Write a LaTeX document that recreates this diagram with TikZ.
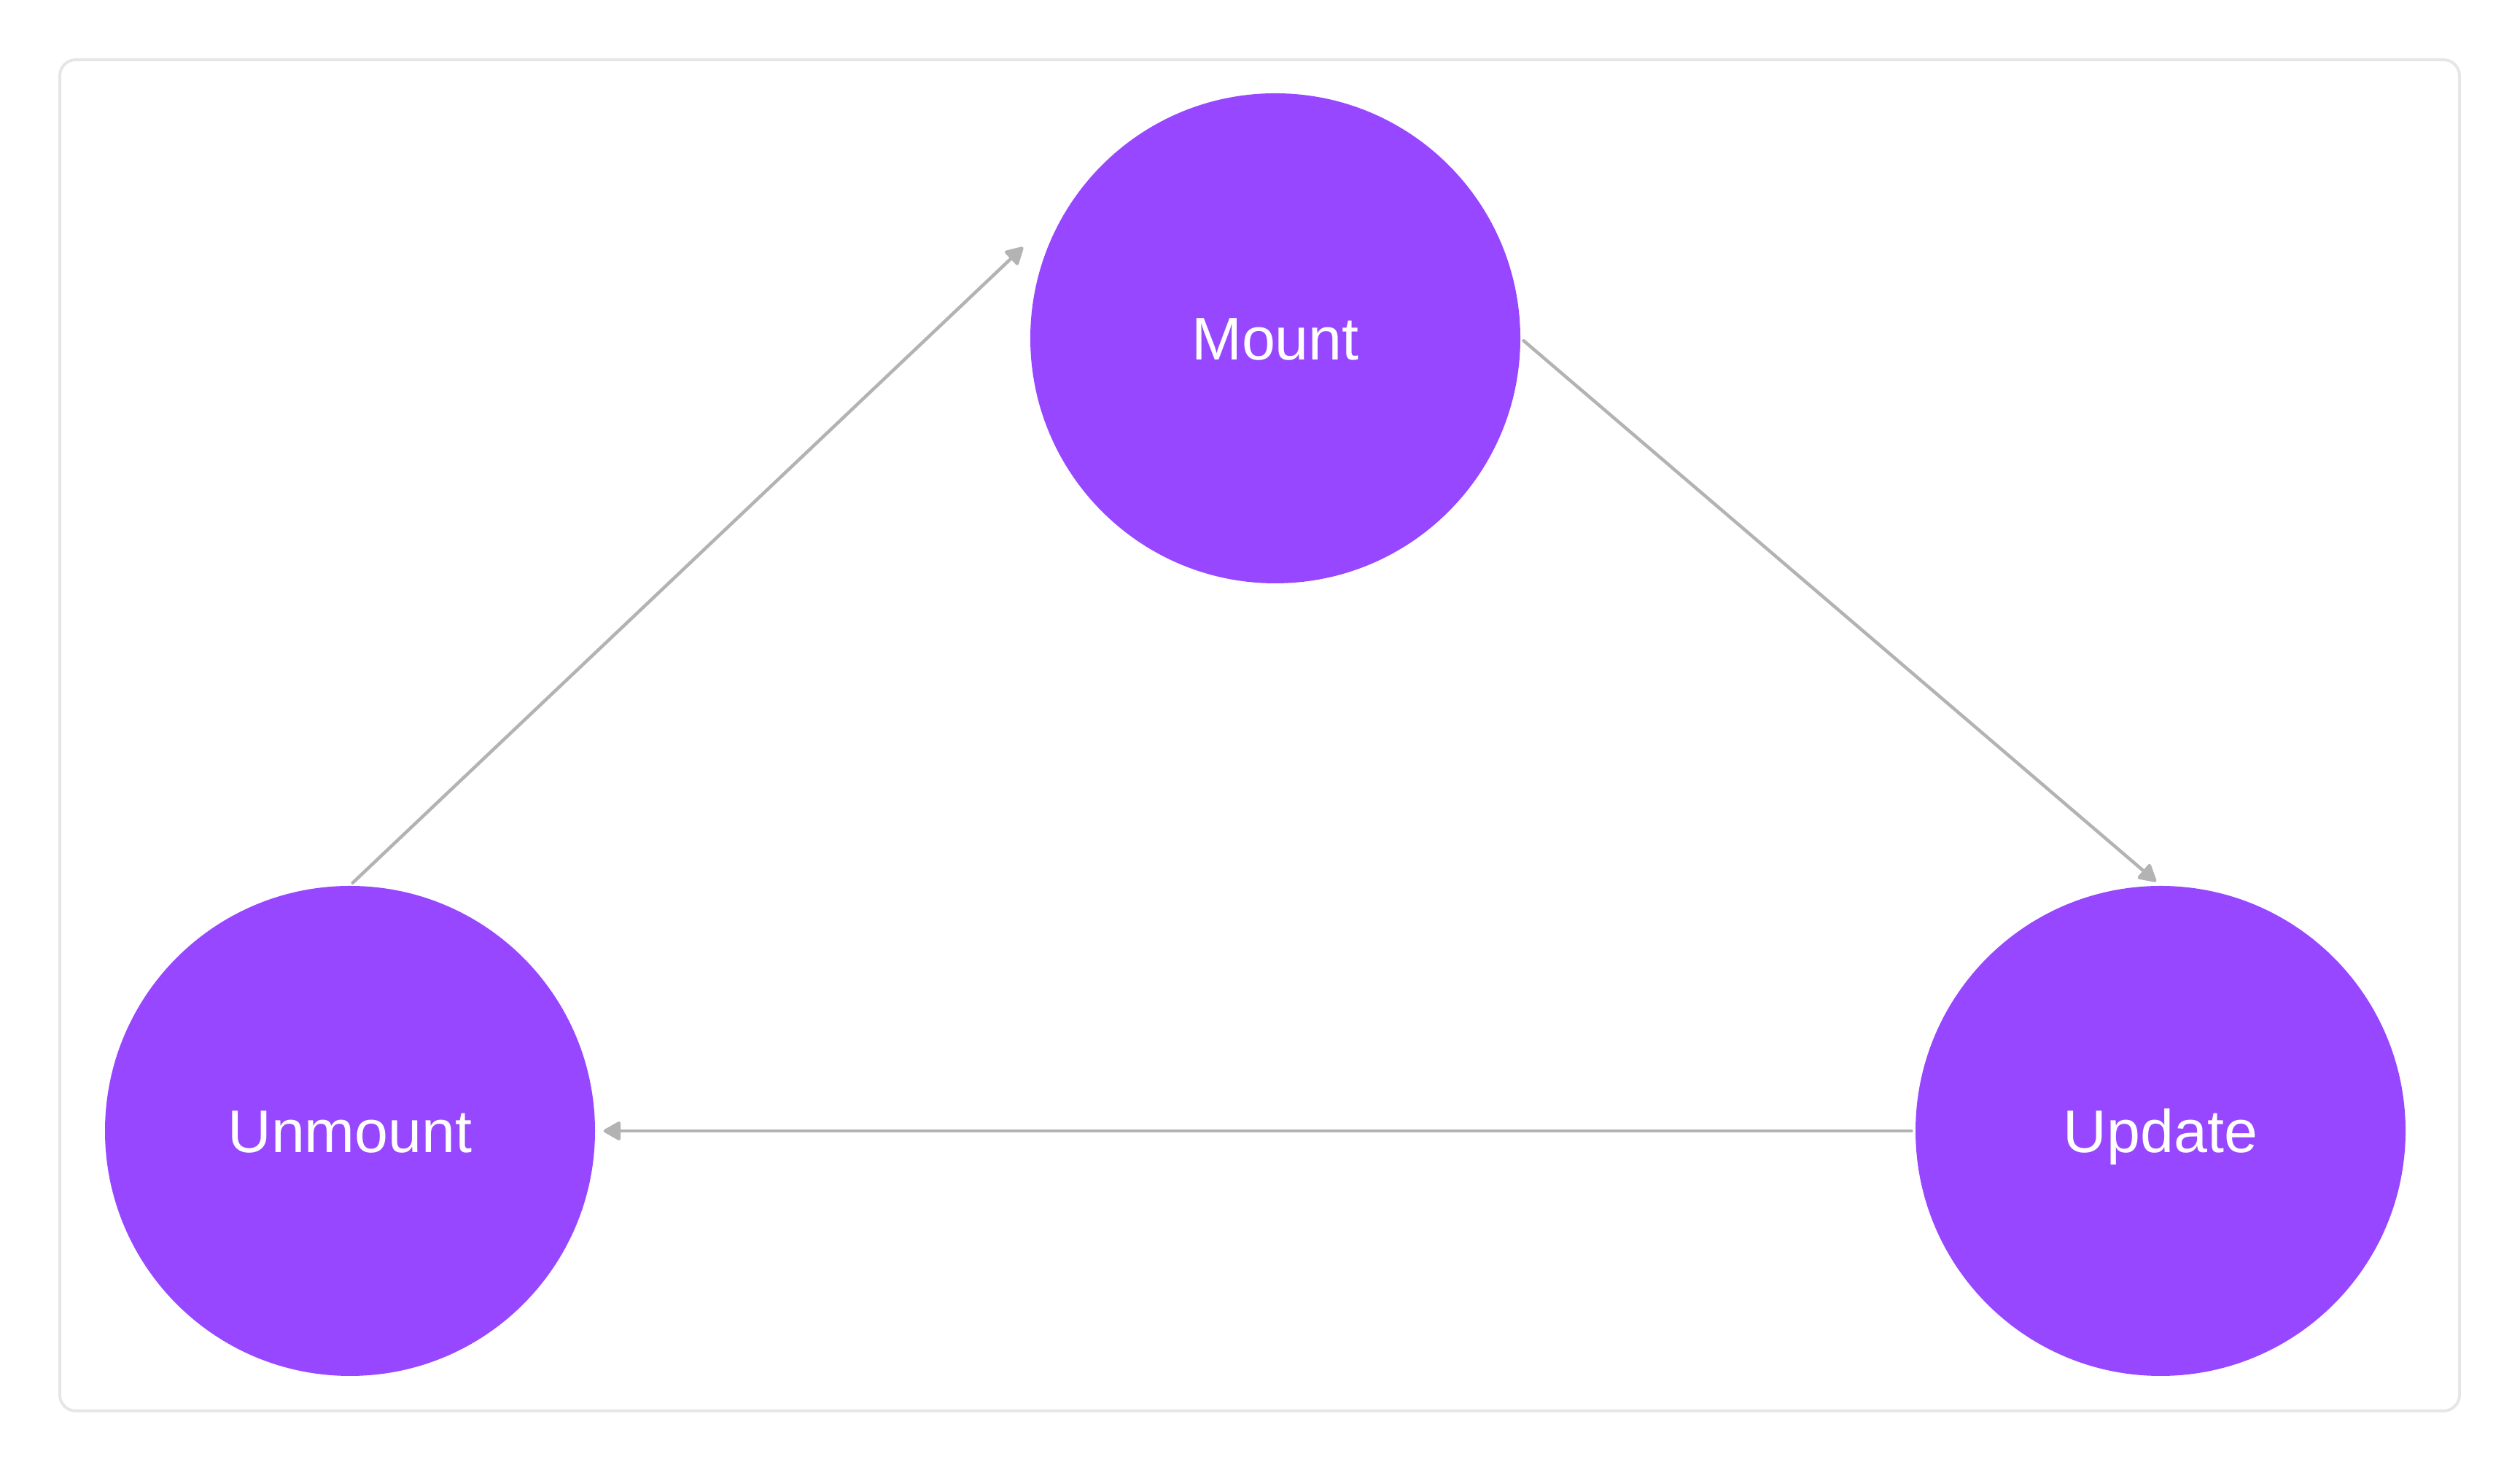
\documentclass[tikz,border=0pt]{standalone}
\usepackage{fontspec}
\setmainfont{Liberation Sans}
\usetikzlibrary{arrows.meta}

\definecolor{phasepurple}{HTML}{9747FF}
\definecolor{flowgray}{HTML}{B3B3B3}
\definecolor{framegray}{HTML}{E6E6E6}

\tikzset{
  phase/.style={circle, fill=phasepurple, minimum size=6.72cm, inner sep=0pt,
    text=white, font=\fontsize{23.5}{28}\selectfont, text height=16.8pt, text depth=0pt},
  flow/.style={draw=flowgray, line width=0.045cm, line cap=round,
    -{Triangle[length=0.26cm, width=0.28cm, round]}, shorten >=0.11cm, shorten <=0.05cm}
}

\begin{document}
\begin{tikzpicture}
  \useasboundingbox (0,0) rectangle (34.56,20.16);

  % Frame
  \draw[framegray, line width=0.04cm, rounded corners=0.22cm] (0.82,0.81) rectangle (33.73,19.34);

  % Phases
  \node[phase] (mount)   at (17.49,15.52) {Mount};
  \node[phase] (update)  at (29.63,4.65)  {Update};
  \node[phase] (unmount) at (4.80,4.65)   {Unmount};

  % Free end of the last arrow
  \coordinate (mounttip) at (14.03,16.77);

  % Arrows
  \draw[flow, shorten >=0.08cm] (mount.east) -- (update.north);
  \draw[flow] (update.west) -- (unmount.east);
  \draw[flow, shorten >=0pt] (unmount.north) -- (mounttip);
\end{tikzpicture}
\end{document}
